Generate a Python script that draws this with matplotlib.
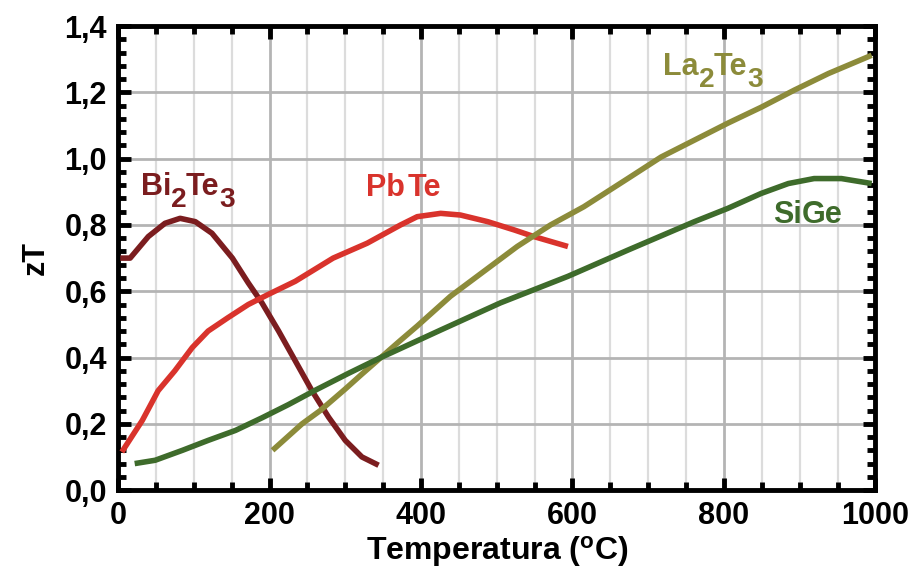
import matplotlib
matplotlib.use("Agg")
import matplotlib.pyplot as plt
from matplotlib.ticker import MultipleLocator, FuncFormatter

plt.rcParams['font.family'] = ['Liberation Sans', 'DejaVu Sans']
plt.rcParams['font.weight'] = 'bold'
plt.rcParams['mathtext.fontset'] = 'custom'
plt.rcParams['mathtext.rm'] = 'Liberation Sans:bold'
plt.rcParams['mathtext.bf'] = 'Liberation Sans:bold'
plt.rcParams['mathtext.default'] = 'rm'

# zT vs temperature (C)
bi2te3_t = [3, 16, 40, 62, 82, 102, 124, 151, 172, 190, 212, 234, 256, 278, 300, 322, 344]
bi2te3_zt = [0.70, 0.70, 0.765, 0.805, 0.82, 0.81, 0.775, 0.70, 0.625, 0.565, 0.48,
             0.39, 0.30, 0.22, 0.15, 0.10, 0.075]

pbte_t = [5, 32, 53, 75, 98, 119, 145, 172, 198, 234, 284, 329, 373, 395, 426, 452,
          488, 523, 549, 594]
pbte_zt = [0.115, 0.21, 0.30, 0.36, 0.43, 0.48, 0.52, 0.56, 0.59, 0.63, 0.70, 0.745,
           0.80, 0.825, 0.835, 0.83, 0.81, 0.785, 0.765, 0.735]

la2te3_t = [204, 243, 267, 300, 322, 347, 372, 395, 417, 439, 483, 527, 571, 615, 673,
            717, 761, 805, 849, 893, 938, 995]
la2te3_zt = [0.12, 0.20, 0.24, 0.305, 0.35, 0.40, 0.45, 0.495, 0.54, 0.585, 0.66, 0.735,
             0.80, 0.855, 0.94, 1.005, 1.056, 1.107, 1.155, 1.207, 1.257, 1.312]

sige_t = [22, 49, 85, 119, 155, 190, 225, 261, 304, 347, 426, 505, 594, 673, 761, 805,
          849, 885, 919, 955, 995]
sige_zt = [0.08, 0.09, 0.12, 0.15, 0.18, 0.218, 0.258, 0.302, 0.352, 0.40, 0.483, 0.565,
           0.645, 0.724, 0.81, 0.85, 0.895, 0.925, 0.94, 0.94, 0.925]

# label pieces: (text, is_subscript)
bi2te3_label = [('Bi', 0), ('2', 1), ('Te', 0), ('3', 1)]
pbte_label = [('Pb', 0), ('Te', 0)]
la2te3_label = [('La', 0), ('2', 1), ('Te', 0), ('3', 1)]
sige_label = [('Si', 0), ('Ge', 0)]

series = [
    (bi2te3_t, bi2te3_zt, '#7b1d1f', bi2te3_label, (30, 0.89)),
    (pbte_t, pbte_zt, '#d9332c', pbte_label, (327, 0.887)),
    (la2te3_t, la2te3_zt, '#8c8b3a', la2te3_label, (720, 1.253)),
    (sige_t, sige_zt, '#3e6b2b', sige_label, (865, 0.805)),
]

fig = plt.figure(figsize=(9.17, 5.80), dpi=100)
ax = fig.add_axes([0.1287, 0.155, 0.826, 0.800])

ax.set_xlim(0, 1000)
ax.set_ylim(0, 1.4)

renderer = fig.canvas.get_renderer()


def draw_label(parts, color, pos, size=22):
    """Write a formula piece by piece so the subscripts sit low and stay large."""
    dx = 0.0
    for txt, sub in parts:
        fs = size * 0.92 if sub else size
        dy = -12 if sub else 0
        t = ax.annotate(txt, xy=pos, xycoords='data', xytext=(dx, dy),
                        textcoords='offset pixels', color=color, fontsize=fs,
                        fontweight='bold', ha='left', va='baseline', zorder=4)
        w = t.get_window_extent(renderer).width
        dx += w - (1 if sub else 0) + (3 if txt == 'Pb' else 0)


for t, zt, color, label, pos in series:
    ax.plot(t, zt, color=color, lw=4.0, solid_capstyle='butt',
            solid_joinstyle='round', zorder=3)
    draw_label(label, color, pos)

ax.xaxis.set_major_locator(MultipleLocator(200))
ax.xaxis.set_minor_locator(MultipleLocator(50))
ax.yaxis.set_major_locator(MultipleLocator(0.2))
ax.yaxis.set_minor_locator(MultipleLocator(0.04))
ax.yaxis.set_major_formatter(FuncFormatter(lambda v, p: f"{v:.1f}".replace('.', ',')))

ax.grid(which='major', color='#b4b4b4', lw=2.0, zorder=1)
ax.grid(which='minor', axis='x', color='#dcdcdc', lw=1.6, zorder=1)

for s in ax.spines.values():
    s.set_linewidth(3.5)
ax.tick_params(which='both', direction='in', top=True, right=True, width=3.5)
ax.tick_params(which='major', length=9, labelsize=22, pad=8)
ax.tick_params(which='minor', length=6)
for lab in ax.get_xticklabels() + ax.get_yticklabels():
    lab.set_fontweight('bold')

ax.set_xlabel(r'Temperatura ($^{\rm o}$C)', fontsize=23, fontweight='bold', labelpad=2)
ax.set_ylabel('zT', fontsize=22, fontweight='bold', labelpad=10)

fig.savefig('out.png', dpi=100)
